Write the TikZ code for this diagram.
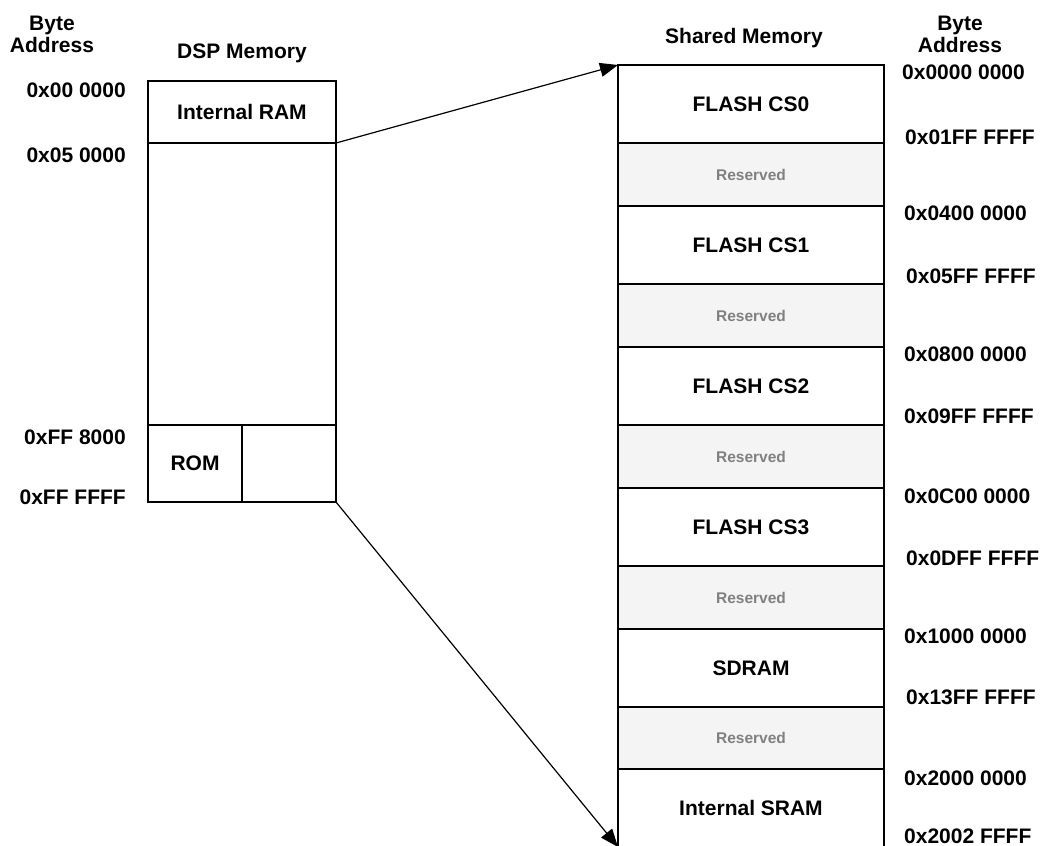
\documentclass[tikz,border=0pt]{standalone}
\usepackage{fontspec}
\setmainfont{Liberation Sans}
\usetikzlibrary{arrows.meta}
\definecolor{resfill}{HTML}{F4F4F4}
\definecolor{restext}{HTML}{808080}
\tikzset{
  mbox/.style={draw, line width=1.4pt, rectangle, inner sep=0pt, outer sep=0pt, anchor=north west,
    font=\bfseries\fontsize{21}{25}\selectfont},
  resbox/.style={mbox, fill=resfill, text=restext, font=\bfseries\fontsize{15.5}{19}\selectfont},
  addr/.style={inner sep=0pt, font=\bfseries\fontsize{21}{25}\selectfont},
  head/.style={inner sep=0pt, align=center, font=\bfseries\fontsize{21}{22}\selectfont},
  link/.style={line width=1.2pt, -{Triangle[length=18pt,width=14pt]}}
}
\begin{document}
\begin{tikzpicture}[x=1pt,y=-1pt]
\useasboundingbox (0,0) rectangle (1042,846);
% headings
\node[head] (bal) at (52,34) {Byte\\Address};
\node[head] (dsph) at (242,53) {DSP Memory};
\node[head] (shh) at (744,38) {Shared Memory};
\node[head] (bar) at (960,34) {Byte\\Address};
% DSP memory
\node[mbox, minimum width=188pt, minimum height=62pt] (iram) at (148,81) {Internal RAM};
\node[mbox, minimum width=188pt, minimum height=282pt] (dmid) at (148,143) {};
\node[mbox, minimum width=94pt, minimum height=77pt] (rom) at (148,425) {ROM};
\node[mbox, minimum width=94pt, minimum height=77pt] (romr) at (242,425) {};
% DSP addresses
\node[addr, anchor=east] (a1) at (126,90) {0x00 0000};
\node[addr, anchor=east] (a2) at (126,155) {0x05 0000};
\node[addr, anchor=east] (a3) at (126,437) {0xFF 8000};
\node[addr, anchor=east] (a4) at (126,497) {0xFF FFFF};
% Shared memory
\node[mbox, minimum width=266pt, minimum height=78pt] (cs0) at (618,65) {FLASH CS0};
\node[resbox, minimum width=266pt, minimum height=63pt] (r0) at (618,143) {Reserved};
\node[mbox, minimum width=266pt, minimum height=78pt] (cs1) at (618,206) {FLASH CS1};
\node[resbox, minimum width=266pt, minimum height=63pt] (r1) at (618,284) {Reserved};
\node[mbox, minimum width=266pt, minimum height=78pt] (cs2) at (618,347) {FLASH CS2};
\node[resbox, minimum width=266pt, minimum height=63pt] (r2) at (618,425) {Reserved};
\node[mbox, minimum width=266pt, minimum height=78pt] (cs3) at (618,488) {FLASH CS3};
\node[resbox, minimum width=266pt, minimum height=63pt] (r3) at (618,566) {Reserved};
\node[mbox, minimum width=266pt, minimum height=78pt] (sdram) at (618,629) {SDRAM};
\node[resbox, minimum width=266pt, minimum height=62pt] (r4) at (618,707) {Reserved};
\node[mbox, minimum width=266pt, minimum height=78pt] (sram) at (618,769) {Internal SRAM};
% Shared addresses
\node[addr, anchor=west] (b1) at (902,72) {0x0000 0000};
\node[addr, anchor=west] (b2) at (905,137) {0x01FF FFFF};
\node[addr, anchor=west] (b3) at (904,213) {0x0400 0000};
\node[addr, anchor=west] (b4) at (906,276) {0x05FF FFFF};
\node[addr, anchor=west] (b5) at (904,354) {0x0800 0000};
\node[addr, anchor=west] (b6) at (904,416) {0x09FF FFFF};
\node[addr, anchor=west] (b7) at (904,496) {0x0C00 0000};
\node[addr, anchor=west] (b8) at (906,558) {0x0DFF FFFF};
\node[addr, anchor=west] (b9) at (904,636) {0x1000 0000};
\node[addr, anchor=west] (b10) at (906,697) {0x13FF FFFF};
\node[addr, anchor=west] (b11) at (904,778) {0x2000 0000};
\node[addr, anchor=west] (b12) at (904,836) {0x2002 FFFF};
% connectors
\draw[link] (iram.south east) -- (cs0.north west);
\draw[link] (romr.south east) -- (sram.south west);
\end{tikzpicture}
\end{document}
